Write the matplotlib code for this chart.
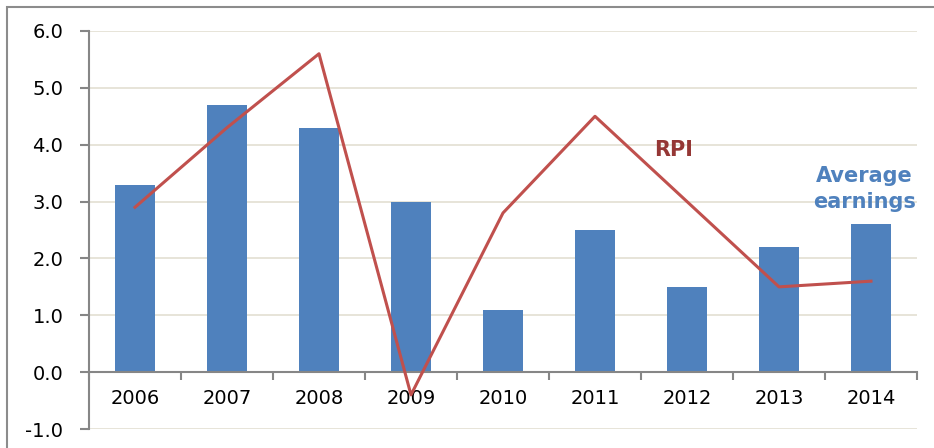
import numpy as np
import matplotlib
matplotlib.use('Agg')
import matplotlib.pyplot as plt
from matplotlib.patches import Rectangle

# Data
years = ['2006', '2007', '2008', '2009', '2010', '2011', '2012', '2013', '2014']
earnings = [3.3, 4.7, 4.3, 3.0, 1.1, 2.5, 1.5, 2.2, 2.6]
rpi = [2.9, 4.3, 5.6, -0.4, 2.8, 4.5, 3.0, 1.5, 1.6]
yticks = [-1.0, 0.0, 1.0, 2.0, 3.0, 4.0, 5.0, 6.0]

bar_color = '#4F81BD'
line_color = '#C0504D'
axis_gray = '#868686'

fig = plt.figure(figsize=(9.34, 4.48), dpi=100)
ax = fig.add_axes([89 / 934, 1 - 429 / 448, (917 - 89) / 934, (429 - 31) / 448])

x = np.arange(len(years))
ax.bar(x, earnings, width=0.43, color=bar_color, zorder=2)
ax.plot(x, rpi, color=line_color, linewidth=2.2, zorder=3)

ax.set_xlim(-0.5, len(years) - 0.5)
ax.set_ylim(-1.0, 6.0)

# horizontal grid
ax.set_yticks(yticks)
ax.set_yticklabels([f'{v:.1f}' for v in yticks], fontsize=14)
ax.yaxis.grid(True, color='#E3DFD2', linewidth=1.2, zorder=0)
ax.set_axisbelow(True)

# category axis sits on zero, ticks at the category boundaries
ax.spines['bottom'].set_position(('data', 0))
ax.spines['bottom'].set_color(axis_gray)
ax.spines['bottom'].set_linewidth(1.5)
ax.spines['left'].set_color(axis_gray)
ax.spines['left'].set_linewidth(1.5)
ax.spines['top'].set_visible(False)
ax.spines['right'].set_visible(False)

ax.set_xticks(np.arange(len(years) + 1) - 0.5)
ax.set_xticklabels([])
ax.set_xticks(x, minor=True)
ax.set_xticklabels(years, minor=True, fontsize=14)
ax.tick_params(axis='x', which='major', direction='out', length=6, width=1.5, color=axis_gray)
ax.tick_params(axis='x', which='minor', length=0, pad=12)
ax.tick_params(axis='y', direction='out', length=6.5, width=1.5, color=axis_gray, pad=12)

# series labels
ax.text(5.85, 3.9, 'RPI', color='#953735', fontsize=15, fontweight='bold',
        ha='center', va='center')
ax.text(7.93, 3.22, 'Average\nearnings', color=bar_color, fontsize=15, fontweight='bold',
        ha='center', va='center', linespacing=1.4)

# outer chart frame (cropped on the right and bottom)
fig.patches.append(Rectangle((7 / 934, -0.2), 1.2, 1.2 - 7 / 448, transform=fig.transFigure,
                             fill=False, edgecolor='#8C8C8C', linewidth=1.5))

fig.savefig('out.png', dpi=100)
